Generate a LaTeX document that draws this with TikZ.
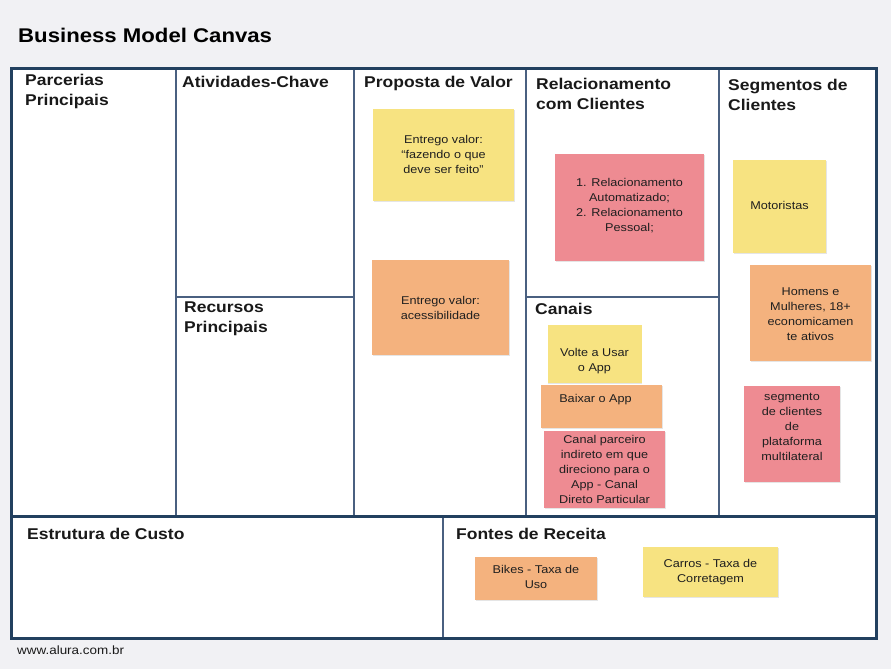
\documentclass[tikz,border=0pt]{standalone}
\usepackage{fontspec}
\setmainfont{Liberation Sans}[FakeStretch=1.12]
\usetikzlibrary{shadows}
\definecolor{bg}{HTML}{F1F1F4}
\definecolor{framec}{HTML}{22405F}
\definecolor{dividerc}{HTML}{4A6080}
\definecolor{stY}{HTML}{F7E381}
\definecolor{stO}{HTML}{F4B27E}
\definecolor{stP}{HTML}{EE8B92}
\begin{document}
\begin{tikzpicture}[x=1pt,y=-1pt,
  heading/.style={anchor=north west, inner sep=0pt, align=left, font=\fontsize{15.6}{20}\selectfont\bfseries, text=black!90},
  sticky/.style={inner sep=0pt, draw=none, drop shadow={shadow xshift=0.8pt, shadow yshift=-1.2pt, opacity=.2}},
  stext/.style={align=center, inner sep=0pt, font=\fontsize{11.3}{15}\selectfont, text=black!88},
  divline/.style={draw=dividerc, line width=1.6pt},
  thickline/.style={draw=framec, line width=3pt}]

\fill[bg] (0,0) rectangle (891,669);
\useasboundingbox (0,0) rectangle (891,669);
\fill[white] (11,69) rectangle (876,638);

% title and footer
\node[anchor=west, inner sep=0pt, font=\fontsize{19.8}{24}\selectfont\bfseries] (title) at (18,35) {Business Model Canvas};
\node[anchor=west, inner sep=0pt, font=\fontsize{12}{14}\selectfont, text=black!90] (footer) at (17,650) {www.alura.com.br};

% grid
\coordinate (c1t) at (176,69);  \coordinate (c1b) at (176,516);
\coordinate (c2t) at (354,69);  \coordinate (c2b) at (354,516);
\coordinate (c3t) at (526,69);  \coordinate (c3b) at (526,516);
\coordinate (c4t) at (719,69);  \coordinate (c4b) at (719,516);
\coordinate (c5t) at (443,516); \coordinate (c5b) at (443,638);
\draw[divline] (c1t) -- (c1b);
\draw[divline] (c2t) -- (c2b);
\draw[divline] (c3t) -- (c3b);
\draw[divline] (c4t) -- (c4b);
\draw[divline] (c5t) -- (c5b);
\coordinate (h1a) at (176,297); \coordinate (h1b) at (354,297);
\coordinate (h2a) at (526,297); \coordinate (h2b) at (719,297);
\draw[divline] (h1a) -- (h1b);
\draw[divline] (h2a) -- (h2b);
\coordinate (hma) at (11,516); \coordinate (hmb) at (876,516);
\draw[thickline] (hma) -- (hmb);
\draw[thickline] (11,69) rectangle (876,638);

% headings
\node[heading] (parc) at (25,74) {Parcerias\\Principais};
\node[heading] (ativ) at (182,76) {Atividades-Chave};
\node[heading] (prop) at (364,76) {Proposta de Valor};
\node[heading] (rel) at (536,78) {Relacionamento\\com Clientes};
\node[heading] (seg) at (728,79) {Segmentos de\\Clientes};
\node[heading] (rec) at (184,302) {Recursos\\Principais};
\node[heading] (can) at (535,303) {Canais};
\node[heading] (est) at (27,528) {Estrutura de Custo};
\node[heading] (fon) at (456,528) {Fontes de Receita};

% stickies
\node[sticky, fill=stY, minimum width=141pt, minimum height=92pt] (s1) at (443.5,155) {};
\node[stext] (t1) at ([yshift=1pt]s1.center) {Entrego valor:\\“fazendo o que\\deve ser feito”};

\node[sticky, fill=stO, minimum width=137pt, minimum height=95pt] (s2) at (440.5,307.5) {};
\node[stext] (t2) at (s2.center) {Entrego valor:\\acessibilidade};

\node[sticky, fill=stP, minimum width=149pt, minimum height=107pt] (s3) at (629.5,207.5) {};
\node[stext] (t3) at ([yshift=2pt]s3.center) {1. Relacionamento\\Automatizado;\\2. Relacionamento\\Pessoal;};

\node[sticky, fill=stY, minimum width=93pt, minimum height=93pt] (s4) at (779.5,206.5) {};
\node[stext] (t4) at ([yshift=1.5pt]s4.center) {Motoristas};

\node[sticky, fill=stO, minimum width=121pt, minimum height=96pt] (s5) at (810.5,313) {};
\node[stext] (t5) at ([yshift=-1pt]s5.center) {Homens e\\Mulheres, 18+\\economicamen\\te ativos};

\node[sticky, fill=stP, minimum width=96pt, minimum height=96pt] (s6) at (792,434) {};
\node[stext] (t6) at ([yshift=7pt]s6.center) {segmento\\de clientes\\de\\plataforma\\multilateral};

\node[sticky, fill=stY, minimum width=94pt, minimum height=58pt] (s7) at (594.5,353.5) {};
\node[stext] (t7) at ([yshift=-7.5pt]s7.center) {Volte a Usar\\o App};

\node[sticky, fill=stO, minimum width=121pt, minimum height=43pt] (s8) at (601.5,406) {};
\node[stext] (t8) at ([xshift=-6pt,yshift=6pt]s8.center) {Baixar o App};

\node[sticky, fill=stP, minimum width=121pt, minimum height=77pt] (s9) at (604.5,469.5) {};
\node[stext] (t9) at ([yshift=0.5pt]s9.center) {Canal parceiro\\indireto em que\\direciono para o\\App - Canal\\Direto Particular};

\node[sticky, fill=stO, minimum width=122pt, minimum height=43pt] (s10) at (536,578.5) {};
\node[stext] (t10) at ([yshift=1.5pt]s10.center) {Bikes - Taxa de\\Uso};

\node[sticky, fill=stY, minimum width=135pt, minimum height=50pt] (s11) at (710.5,572) {};
\node[stext] (t11) at (s11.center) {Carros - Taxa de\\Corretagem};
\end{tikzpicture}
\end{document}
